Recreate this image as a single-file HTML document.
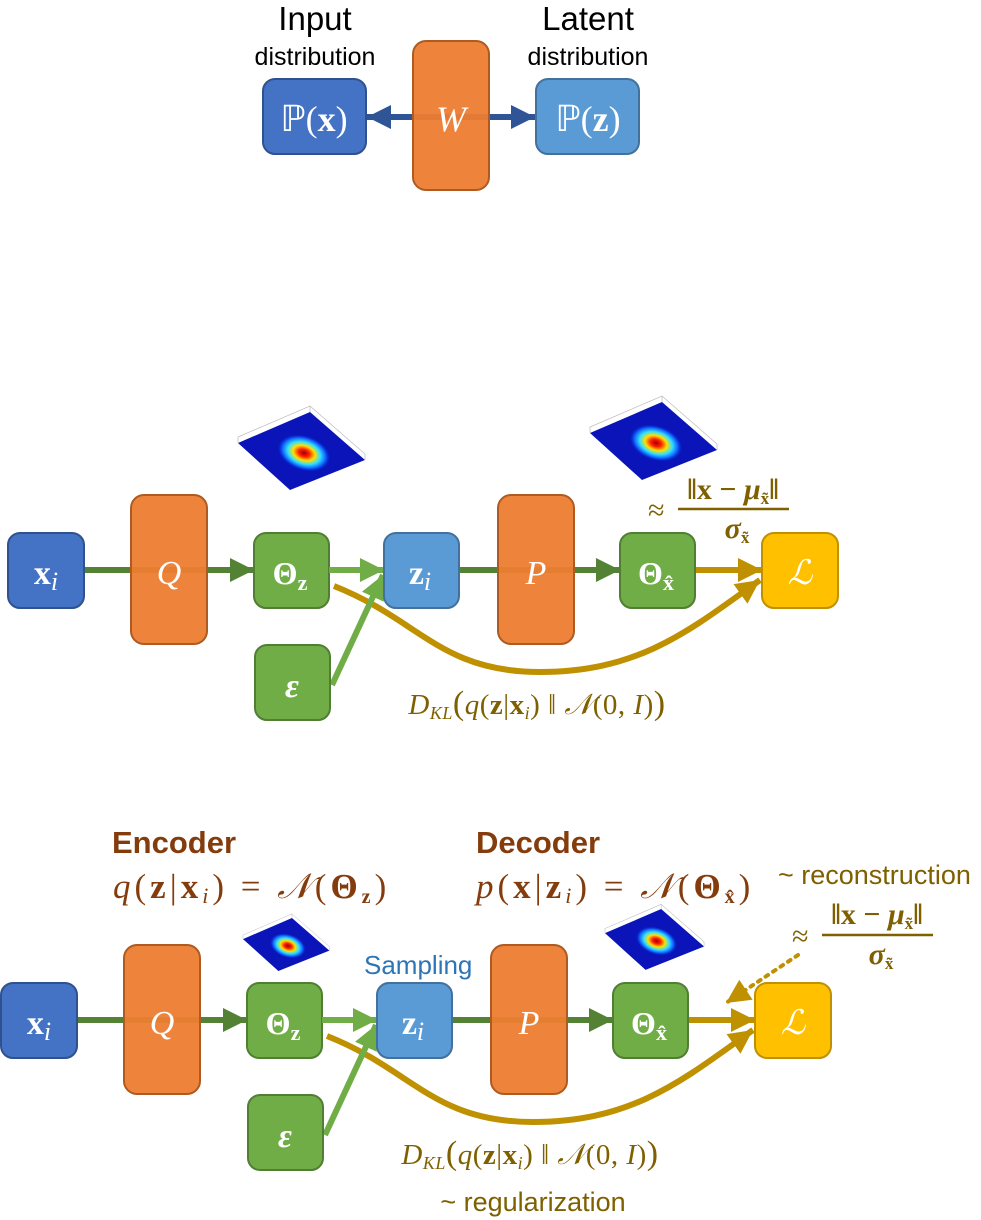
<!DOCTYPE html>
<html><head><meta charset="utf-8"><style>
html,body{margin:0;padding:0;background:#fff;}
svg{display:block;}
.ser{font-family:"Liberation Serif",serif;}
.san{font-family:"Liberation Sans",sans-serif;}
</style></head><body>
<svg width="981" height="1220" viewBox="0 0 981 1220" xmlns="http://www.w3.org/2000/svg">
<defs>
<radialGradient id="gs" cx="50%" cy="50%" r="50%">
<stop offset="0" stop-color="#a00000"/><stop offset="0.2" stop-color="#ff2000"/><stop offset="0.4" stop-color="#ffe000"/><stop offset="0.6" stop-color="#30e0ff"/><stop offset="0.8" stop-color="#1060ff"/><stop offset="1" stop-color="#0010b0" stop-opacity="0"/>
</radialGradient>
<marker id="ag" markerWidth="4" markerHeight="4" refX="4" refY="2" orient="auto" markerUnits="strokeWidth"><path d="M0,0 L4,2 L0,4 z" fill="#548235"/></marker>
<marker id="al" markerWidth="4" markerHeight="4" refX="4" refY="2" orient="auto" markerUnits="strokeWidth"><path d="M0,0 L4,2 L0,4 z" fill="#70AD47"/></marker>
<marker id="ao" markerWidth="4" markerHeight="4" refX="4" refY="2" orient="auto" markerUnits="strokeWidth"><path d="M0,0 L4,2 L0,4 z" fill="#BF9000"/></marker>
<marker id="ab" markerWidth="4" markerHeight="4" refX="4" refY="2" orient="auto-start-reverse" markerUnits="strokeWidth"><path d="M0,0 L4,2 L0,4 z" fill="#2F5597"/></marker>
<marker id="ad" markerWidth="6" markerHeight="6" refX="6" refY="3" orient="auto" markerUnits="strokeWidth"><path d="M0,0 L6,3 L0,6 z" fill="#BF9000"/></marker>
<g id="gauss">
<path d="M0,31 L72,0 L127,48 L52,78 Z" fill="#0a14b8"/>
<path d="M0,31 L0,25 L72,-6 L72,0 M72,-6 L127,42 L127,48" fill="none" stroke="#bbb" stroke-width="0.7"/>
<ellipse cx="66" cy="41" rx="28" ry="18" fill="url(#gs)" transform="rotate(18 66 41)"/>
</g>
<g id="pipe">
<line x1="84" y1="570" x2="254" y2="570" stroke="#548235" stroke-width="6" marker-end="url(#ag)"/>
<line x1="459" y1="570" x2="620" y2="570" stroke="#548235" stroke-width="6" marker-end="url(#ag)"/>
<rect x="8" y="533" width="76" height="75" rx="12" fill="#4472C4" stroke="#2F528F" stroke-width="2"/>
<text x="46" y="584" text-anchor="middle" class="ser" fill="#fff" font-size="34" font-weight="bold">x<tspan font-style="italic" font-weight="normal" font-size="26" dy="6">i</tspan></text>
<rect x="131" y="495" width="76" height="149" rx="13" fill="#ED7D31" fill-opacity="0.95" stroke="#AE5A21" stroke-width="2"/>
<text x="169" y="584" text-anchor="middle" class="ser" fill="#fff" font-size="34" font-style="italic">Q</text>
<rect x="254" y="533" width="75" height="75" rx="12" fill="#70AD47" stroke="#507E32" stroke-width="2"/>
<text x="290" y="584" text-anchor="middle" class="ser" fill="#fff" font-size="32" font-weight="bold">Θ<tspan font-size="22" dy="6">z</tspan></text>
<line x1="329" y1="570" x2="384" y2="570" stroke="#70AD47" stroke-width="6" marker-end="url(#al)"/>
<path d="M334,586 C420,620 440,672 540,672 C640,672 690,630 760,580" fill="none" stroke="#BF9000" stroke-width="6" marker-end="url(#ao)"/>
<line x1="332" y1="685" x2="383" y2="575" stroke="#70AD47" stroke-width="6" marker-end="url(#al)"/>
<rect x="384" y="533" width="75" height="75" rx="12" fill="#5B9BD5" stroke="#41719C" stroke-width="2"/>
<text x="420" y="584" text-anchor="middle" class="ser" fill="#fff" font-size="34" font-weight="bold">z<tspan font-style="italic" font-weight="normal" font-size="26" dy="6">i</tspan></text>
<rect x="498" y="495" width="76" height="149" rx="13" fill="#ED7D31" fill-opacity="0.95" stroke="#AE5A21" stroke-width="2"/>
<text x="536" y="584" text-anchor="middle" class="ser" fill="#fff" font-size="34" font-style="italic">P</text>
<line x1="695" y1="570" x2="762" y2="570" stroke="#BF9000" stroke-width="6" marker-end="url(#ao)"/>
<rect x="620" y="533" width="75" height="75" rx="12" fill="#70AD47" stroke="#507E32" stroke-width="2"/>
<text x="656" y="584" text-anchor="middle" class="ser" fill="#fff" font-size="32" font-weight="bold">Θ<tspan font-size="22" dy="6">x̂</tspan></text>
<rect x="762" y="533" width="76" height="75" rx="12" fill="#FFC000" stroke="#BF9000" stroke-width="2"/>
<text x="800" y="584" text-anchor="middle" class="ser" fill="#fff" font-size="34" font-style="italic">ℒ</text>
<rect x="255" y="645" width="75" height="75" rx="12" fill="#70AD47" stroke="#507E32" stroke-width="2"/>
<text x="292" y="697" text-anchor="middle" class="ser" fill="#fff" font-size="34" font-weight="bold" font-style="italic">ε</text>
<text x="537" y="714" text-anchor="middle" class="ser" fill="#7F6000" font-size="29" letter-spacing="0.5"><tspan font-style="italic">D</tspan><tspan font-style="italic" font-size="18" dy="5">KL</tspan><tspan dy="-5" font-size="34">(</tspan><tspan font-style="italic">q</tspan>(<tspan font-weight="bold">z</tspan>|<tspan font-weight="bold">x</tspan><tspan font-style="italic" font-size="18" dy="5">i</tspan><tspan dy="-5">) ‖ </tspan><tspan font-style="italic">𝒩</tspan>(0, <tspan font-style="italic">I</tspan>)<tspan font-size="34">)</tspan></text>
</g>
</defs>

<!-- top -->
<text x="315" y="30" text-anchor="middle" class="san" font-size="33" fill="#000">Input</text>
<text x="315" y="65" text-anchor="middle" class="san" font-size="25" fill="#000">distribution</text>
<text x="588" y="30" text-anchor="middle" class="san" font-size="33" fill="#000">Latent</text>
<text x="588" y="65" text-anchor="middle" class="san" font-size="25" fill="#000">distribution</text>
<line x1="367" y1="117" x2="535" y2="117" stroke="#2F5597" stroke-width="6" marker-end="url(#ab)" marker-start="url(#ab)"/>
<rect x="263" y="79" width="103" height="75" rx="12" fill="#4472C4" stroke="#2F528F" stroke-width="2"/>
<text x="314" y="131" text-anchor="middle" class="ser" fill="#fff" font-size="36">ℙ(<tspan font-weight="bold">x</tspan>)</text>
<rect x="413" y="41" width="76" height="149" rx="13" fill="#ED7D31" fill-opacity="0.95" stroke="#AE5A21" stroke-width="2"/>
<text x="451" y="131" text-anchor="middle" class="ser" fill="#fff" font-size="36" font-style="italic">W</text>
<rect x="536" y="79" width="103" height="75" rx="12" fill="#5B9BD5" stroke="#41719C" stroke-width="2"/>
<text x="588" y="131" text-anchor="middle" class="ser" fill="#fff" font-size="36">ℙ(<tspan font-weight="bold">z</tspan>)</text>

<!-- middle -->
<use href="#gauss" transform="translate(238,412)"/>
<use href="#gauss" transform="translate(590,402)"/>
<use href="#pipe"/>
<text x="648" y="520" class="ser" fill="#7F6000" font-size="30">≈</text>
<text x="733" y="499" text-anchor="middle" class="ser" fill="#7F6000" font-size="30" font-weight="bold">‖x − <tspan font-style="italic">μ</tspan><tspan font-size="17" dy="5">x̃</tspan><tspan dy="-5">‖</tspan></text>
<line x1="678" y1="509" x2="789" y2="509" stroke="#7F6000" stroke-width="2.5"/>
<text x="737" y="538" text-anchor="middle" class="ser" fill="#7F6000" font-size="30" font-weight="bold" font-style="italic">σ<tspan font-style="normal" font-size="17" dy="5">x̃</tspan></text>

<!-- bottom -->
<text x="112" y="853" class="san" fill="#843C0C" font-size="31" font-weight="bold">Encoder</text>
<text x="113" y="898" class="ser" fill="#843C0C" font-size="35" letter-spacing="4"><tspan font-style="italic">q</tspan>(<tspan font-weight="bold">z</tspan>|<tspan font-weight="bold">x</tspan><tspan font-style="italic" font-size="22" dy="5">i</tspan><tspan dy="-5">) = </tspan><tspan font-style="italic">𝒩</tspan>(<tspan font-weight="bold">Θ</tspan><tspan font-weight="bold" font-size="20" dy="5">z</tspan><tspan dy="-5">)</tspan></text>
<text x="476" y="853" class="san" fill="#843C0C" font-size="31" font-weight="bold">Decoder</text>
<text x="476" y="898" class="ser" fill="#843C0C" font-size="35" letter-spacing="4"><tspan font-style="italic">p</tspan>(<tspan font-weight="bold">x</tspan>|<tspan font-weight="bold">z</tspan><tspan font-style="italic" font-size="22" dy="5">i</tspan><tspan dy="-5">) = </tspan><tspan font-style="italic">𝒩</tspan>(<tspan font-weight="bold">Θ</tspan><tspan font-weight="bold" font-size="20" dy="5">x̂</tspan><tspan dy="-5">)</tspan></text>
<text x="778" y="884" class="san" fill="#7F6000" font-size="27">~ reconstruction</text>
<text x="364" y="974" class="san" fill="#2E75B6" font-size="26">Sampling</text>
<use href="#gauss" transform="translate(243,918) scale(0.68)"/>
<use href="#gauss" transform="translate(605,909) scale(0.78)"/>
<use href="#pipe" transform="translate(-7,450)"/>
<text x="792" y="946" class="ser" fill="#7F6000" font-size="30">≈</text>
<text x="877" y="924" text-anchor="middle" class="ser" fill="#7F6000" font-size="30" font-weight="bold">‖x − <tspan font-style="italic">μ</tspan><tspan font-size="17" dy="5">x̃</tspan><tspan dy="-5">‖</tspan></text>
<line x1="822" y1="935" x2="933" y2="935" stroke="#7F6000" stroke-width="2.5"/>
<text x="881" y="964" text-anchor="middle" class="ser" fill="#7F6000" font-size="30" font-weight="bold" font-style="italic">σ<tspan font-style="normal" font-size="17" dy="5">x̃</tspan></text>
<line x1="798" y1="955" x2="726" y2="1003" stroke="#BF9000" stroke-width="4" stroke-dasharray="3,6" stroke-linecap="round" marker-end="url(#ad)"/>
<text x="533" y="1211" text-anchor="middle" class="san" fill="#7F6000" font-size="27">~ regularization</text>
</svg>
</body></html>
